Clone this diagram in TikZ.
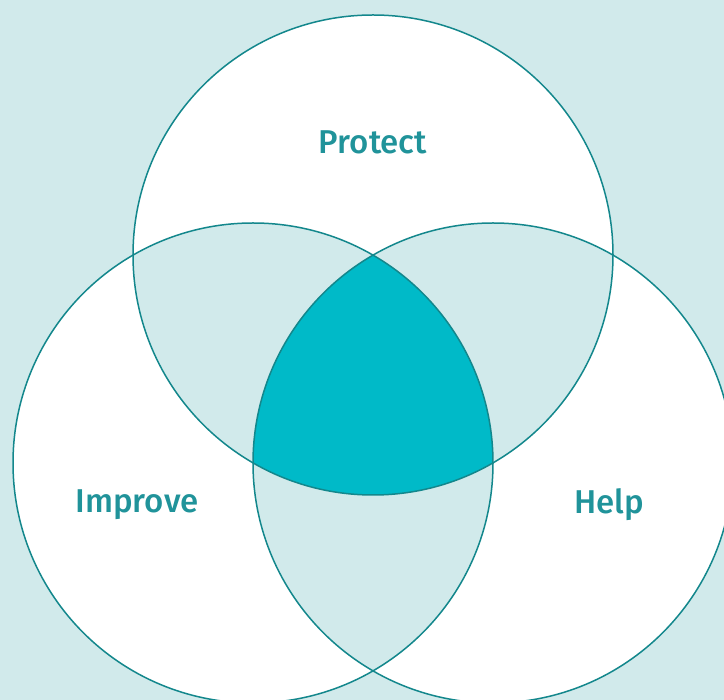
\documentclass[tikz,border=0pt]{standalone}
\usepackage{fontspec}
\newfontfamily\lab{Fira Sans}[UprightFont=* Medium]
\definecolor{bgc}{HTML}{D1EAEB}
\definecolor{linec}{HTML}{13878C}
\definecolor{triple}{HTML}{00BAC8}
\definecolor{txtc}{HTML}{20939A}
\begin{document}
\begin{tikzpicture}[x=1pt,y=-1pt,
  lbl/.style={text=txtc,font=\lab\fontsize{33}{38}\selectfont,inner sep=0pt}]
\useasboundingbox (0,0) rectangle (724,700);
\clip (0,0) rectangle (724,700);
\fill[bgc] (0,0) rectangle (724,700);
\coordinate (T) at (373,255);
\coordinate (L) at (253,463);
\coordinate (R) at (493,463);
\def\rr{240}
% white circles
\fill[white] (T) circle[radius=\rr];
\fill[white] (L) circle[radius=\rr];
\fill[white] (R) circle[radius=\rr];
% pairwise overlaps
\begin{scope}\clip (T) circle[radius=\rr]; \fill[bgc] (L) circle[radius=\rr]; \fill[bgc] (R) circle[radius=\rr];\end{scope}
\begin{scope}\clip (L) circle[radius=\rr]; \fill[bgc] (R) circle[radius=\rr];\end{scope}
% triple overlap
\begin{scope}\clip (T) circle[radius=\rr]; \clip (L) circle[radius=\rr]; \fill[triple] (R) circle[radius=\rr];\end{scope}
% outlines
\draw[linec,line width=1.5] (T) circle[radius=\rr];
\draw[linec,line width=1.5] (L) circle[radius=\rr];
\draw[linec,line width=1.5] (R) circle[radius=\rr];
\node[lbl] (protect) at (373,142) {Protect};
\node[lbl] (improve) at (137,505) {Improve};
\node[lbl] (help) at (609,505) {Help};
\end{tikzpicture}
\end{document}
